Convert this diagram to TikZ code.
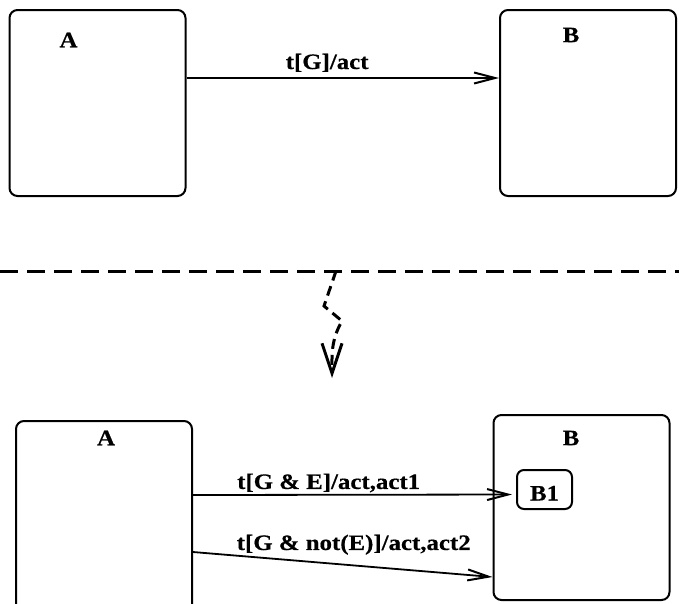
\documentclass[tikz,border=0pt]{standalone}
\usepackage{fontspec}
\setmainfont{Liberation Serif}[FakeStretch=1.13, FakeBold=0.5]
\usetikzlibrary{arrows.meta, positioning}

\begin{document}
\begin{tikzpicture}[
    x=1pt, y=-1pt,
    state/.style={draw, line width=2pt, rounded corners=8pt, minimum width=176pt, minimum height=186pt, inner sep=0pt},
    substate/.style={draw, line width=2pt, rounded corners=7pt, minimum width=55pt, minimum height=39pt, inner sep=0pt, text height=22pt, text depth=0pt, font=\fontsize{22}{26}\selectfont\bfseries},
    sname/.style={font=\fontsize{22}{26}\selectfont\bfseries, inner sep=0pt},
    trans/.style={-{Straight Barb[length=21pt, width=11pt, line width=2pt]}, line width=1.8pt},
    tlabel/.style={font=\fontsize{22}{26}\selectfont\bfseries, inner sep=0pt},
    refine/.style={dash pattern=on 18pt off 9pt, line width=3pt},
]
\clip (0,0) rectangle (679,603);

% before refinement
\node[state] (A) at (97.5,103) {};
\node[state] (B) at (588,103) {};
\node[sname] (nameA) at (68.5,40) {A};
\node[sname] (nameB) at (571,35) {B};
\draw[trans] ([yshift=25pt]A.east) -- node[tlabel, pos=0.45, anchor=base, yshift=9pt] {t[G]/act} ([yshift=25pt]B.west);

% divider and refinement step
\draw[refine] (0,271) -- (679,271);
\coordinate (drop) at (336,271);
\coordinate (landing) at (332,378);
\draw[dash pattern=on 10pt off 6pt, line width=3pt, -{Straight Barb[length=30pt, width=20pt, line width=3pt]}]
    (drop) -- (324,306) -- (342,321) to[out=240, in=90] (landing);

% after refinement
\node[state, minimum height=240pt] (A2) at (104,541) {};
\node[state, minimum height=185pt] (B2) at (581.5,507.5) {};
\node[sname] (nameA2) at (106,438) {A};
\node[sname] (nameB2) at (571,438) {B};
\node[substate] (B1) at (544.5,489.5) {B1};
\draw[trans, shorten >=4pt] ([yshift=46pt]A2.east) -- node[tlabel, pos=0.134, anchor=base west, yshift=6pt] {t[G \& E]/act,act1} ([yshift=-5pt]B1.west);
\draw[trans] ([yshift=-11pt]A2.east) -- node[tlabel, pos=0.143, anchor=base west, yshift=5.6pt] {t[G \& not(E)]/act,act2} ([yshift=-69.5pt]B2.west);

\end{tikzpicture}
\end{document}
